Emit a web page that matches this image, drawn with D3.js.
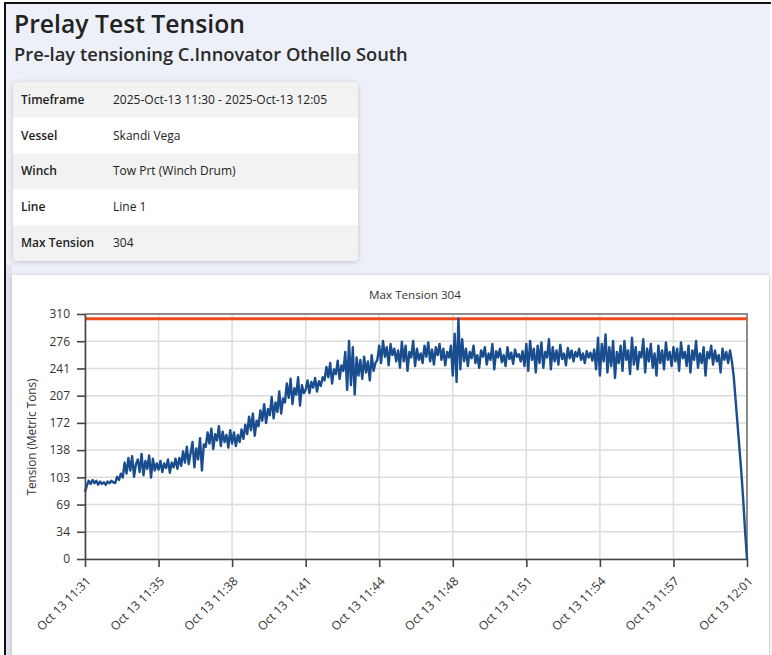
<!DOCTYPE html>
<html><head><meta charset="utf-8">
<script src="https://cdn.jsdelivr.net/npm/d3@7"></script>
<style>
html,body{margin:0;padding:0;background:#edf0f8;overflow:hidden;}
svg{display:block;font-family:"Open Sans","Noto Sans",sans-serif;}
</style></head><body>
<svg id="c" width="772" height="655"></svg>
<script>
const titleText = "Prelay Test Tension";
const subtitleText = "Pre-lay tensioning C.Innovator Othello South";
const infoLabels = ["Timeframe", "Vessel", "Winch", "Line", "Max Tension"];
const infoValues = ["2025-Oct-13 11:30 - 2025-Oct-13 12:05", "Skandi Vega", "Tow Prt (Winch Drum)", "Line 1", "304"];
const chartTitle = "Max Tension 304";
const yAxisLabel = "Tension (Metric Tons)";
const startTime = "2025-10-13T11:31:48";
const sampleSeconds = 5;
const maxTension = 304;
const yDomain = [0, 310];
const yTickValues = [0, 34.44, 68.89, 103.33, 137.78, 172.22, 206.67, 241.11, 275.56, 310];
const yTickLabels = ["0", "34", "69", "103", "138", "172", "207", "241", "276", "310"];
const xTickTimes = ["2025-10-13T11:31:48", "2025-10-13T11:35:03", "2025-10-13T11:38:18", "2025-10-13T11:41:33", "2025-10-13T11:44:48",
  "2025-10-13T11:48:03", "2025-10-13T11:51:18", "2025-10-13T11:54:33", "2025-10-13T11:57:48", "2025-10-13T12:01:03"];
const xTickLabels = ["Oct 13 11:31", "Oct 13 11:35", "Oct 13 11:38", "Oct 13 11:41", "Oct 13 11:44",
  "Oct 13 11:48", "Oct 13 11:51", "Oct 13 11:54", "Oct 13 11:57", "Oct 13 12:01"];
const tension = [
  85, 93, 99, 95, 100, 96, 99, 94, 98, 95, 97, 94, 98, 96, 99, 97,
  96, 104, 100, 108, 103,
  122, 108, 128, 112, 130, 104, 120,
  126, 110, 133, 106, 124, 114, 131, 103, 127, 112, 121,
  113, 124, 110, 121, 115, 126, 109, 122, 116, 127, 114,
  128, 118, 136, 122, 142, 120, 134,
  148, 116, 140, 126, 153, 112, 145,
  142, 160, 146, 165, 139, 158, 150, 168, 143, 161, 148, 157, 141, 163,
  146, 160, 143, 157, 148, 164, 152,
  170, 158, 180, 163, 184, 156, 175,
  168, 188, 175, 196, 172, 190, 182, 205, 178, 198, 186, 212, 184, 203,
  198, 222, 204, 228, 196, 216, 208, 230, 194, 220, 210,
  214, 226, 210, 224, 217, 229, 212, 225, 219, 230,
  226, 243, 230, 248, 222, 240, 234, 251, 228, 245, 238,
  262, 214, 276, 220, 268, 208, 255,
  232, 252, 228, 256, 236, 250, 226, 258, 238, 248,
  252, 270, 248, 276, 256, 268, 245, 272, 258, 266, 250,
  264, 242, 275, 250, 270, 238, 262, 255, 276, 244, 266, 252, 260,
  248, 270, 256, 274, 250, 265, 246, 268, 258, 272, 252, 266, 245, 262, 255, 270,
  232, 285, 224, 304, 240, 278,
  250, 266, 244, 262, 254, 270, 248, 258, 242, 264, 256, 268, 246, 260, 252, 272, 240, 263, 255, 266,
  249, 258, 244, 268, 253, 261, 247, 265, 256, 259, 250, 263,
  244, 272, 238, 276, 252, 266, 236, 270, 248, 274, 242, 262, 255, 278, 240, 268, 250, 264, 246, 271,
  253, 260, 245, 267,
  254, 264, 250, 262, 256, 266, 252, 260, 248, 263, 255, 261, 251, 265,
  240, 280, 232, 272, 250, 284, 236, 268, 244, 276, 229, 262,
  248, 270, 238, 276, 252, 264, 234, 280, 246, 268, 240, 262, 255, 278, 236, 266, 250, 272, 242, 260,
  232, 270, 248, 264, 240, 274, 252, 262, 244, 268,
  250, 266, 238, 274, 254, 262, 244, 270, 236, 264, 252, 276, 242, 260, 248, 268, 232, 262, 254, 270,
  246, 264, 250, 258, 236, 266, 252, 262, 248,
  264, 250, 230, 200, 170, 140, 110, 75, 35, 0
];

const svg = d3.select("#c");
const W = 772, H = 655;
const FONT = "'Open Sans','Noto Sans',sans-serif";
const defs = svg.append("defs");
const f1 = defs.append("filter").attr("id", "sh").attr("x", "-10%").attr("y", "-10%").attr("width", "120%").attr("height", "130%");
f1.append("feDropShadow").attr("dx", 0).attr("dy", 1).attr("stdDeviation", 2.5).attr("flood-color", "#000").attr("flood-opacity", 0.2);

// page background & frame
svg.append("rect").attr("width", W).attr("height", H).attr("fill", "#fff");
svg.append("rect").attr("x", 6).attr("y", 4).attr("width", W - 8).attr("height", H).attr("fill", "#edf0f8");
svg.append("rect").attr("x", 4).attr("y", 2).attr("width", W - 5).attr("height", 2).attr("fill", "#111");
svg.append("rect").attr("x", 4).attr("y", 2).attr("width", 2).attr("height", H).attr("fill", "#111");
svg.append("rect").attr("x", 6).attr("y", 265).attr("width", 6).attr("height", H).attr("fill", "#e1e4ee");

function fitText(sel, target) {
  const w = sel.node().getComputedTextLength();
  const fs = parseFloat(sel.attr("font-size"));
  sel.attr("font-size", fs * target / w);
}
const t1 = svg.append("text").attr("x", 14).attr("y", 33).attr("font-size", 25).attr("font-weight", 600).attr("fill", "#222").text(titleText);
fitText(t1, 231);
const t2 = svg.append("text").attr("x", 14).attr("y", 61).attr("font-size", 17).attr("font-weight", 600).attr("fill", "#2a2a2a").text(subtitleText);
fitText(t2, 394);

// info card
const card = { x: 13, y: 82, w: 345, h: 179 };
const rowH = card.h / infoLabels.length;
svg.append("rect").attr("x", card.x).attr("y", card.y).attr("width", card.w).attr("height", card.h)
  .attr("rx", 5).attr("fill", "#fff").attr("filter", "url(#sh)");
const clip = defs.append("clipPath").attr("id", "cardclip");
clip.append("rect").attr("x", card.x).attr("y", card.y).attr("width", card.w).attr("height", card.h).attr("rx", 5);
const rows = svg.append("g").attr("clip-path", "url(#cardclip)").selectAll("g").data(infoLabels).join("g")
  .attr("transform", (d, i) => `translate(${card.x},${card.y + i * rowH})`);
rows.append("rect").attr("width", card.w).attr("height", rowH).attr("fill", (d, i) => i % 2 === 0 ? "#f2f2f2" : "#fff");
rows.append("text").attr("x", 8).attr("y", rowH / 2 + 4).attr("font-size", 12).attr("font-weight", 600).attr("fill", "#222").text(d => d);
rows.append("text").attr("x", 100).attr("y", rowH / 2 + 4).attr("font-size", 12).attr("fill", "#222").text((d, i) => infoValues[i]);

// chart panel
svg.append("rect").attr("x", 12).attr("y", 275).attr("width", 757).attr("height", 420).attr("fill", "#fff").attr("filter", "url(#sh)");

const m = { l: 85, r: 747, t: 314, b: 559 };
const t0 = new Date(startTime);
const data = tension.map((v, i) => ({ t: new Date(t0.getTime() + i * sampleSeconds * 1000), v }));
const xTicks = xTickTimes.map(s => new Date(s));
const x = d3.scaleTime().domain([xTicks[0], xTicks[xTicks.length - 1]]).range([m.l, m.r]);
const y = d3.scaleLinear().domain(yDomain).range([m.b, m.t]);

// grid
svg.append("g").selectAll("line").data(yTickValues).join("line")
  .attr("x1", m.l).attr("x2", m.r).attr("y1", d => y(d)).attr("y2", d => y(d))
  .attr("stroke", "#dcdcdc").attr("stroke-width", 1.5);
svg.append("g").selectAll("line").data(xTicks).join("line")
  .attr("x1", d => x(d)).attr("x2", d => x(d)).attr("y1", m.t).attr("y2", m.b)
  .attr("stroke", "#dcdcdc").attr("stroke-width", 1.5);

// frame
svg.append("path").attr("d", `M${m.l},${m.t}H${m.r}V${m.b}`).attr("fill", "none").attr("stroke", "#8c8c8c").attr("stroke-width", 2);

// max line
svg.append("line").attr("x1", m.l).attr("x2", m.r).attr("y1", y(maxTension)).attr("y2", y(maxTension))
  .attr("stroke", "#ee4b1f").attr("stroke-width", 3);

// series
svg.append("path").datum(data).attr("fill", "none").attr("stroke", "#194d8d").attr("stroke-width", 2.4)
  .attr("stroke-linejoin", "round")
  .attr("d", d3.line().x(d => x(d.t)).y(d => y(d.v)));

// axes
const yAx = svg.append("g").attr("transform", `translate(${m.l},0)`)
  .call(d3.axisLeft(y).tickValues(yTickValues).tickFormat((d, i) => yTickLabels[i]).tickSize(8).tickSizeOuter(0).tickPadding(7));
const xAx = svg.append("g").attr("transform", `translate(0,${m.b})`)
  .call(d3.axisBottom(x).tickValues(xTicks).tickFormat((d, i) => xTickLabels[i]).tickSize(8).tickSizeOuter(0));
[yAx, xAx].forEach(g => {
  g.select(".domain").attr("stroke", "#444").attr("stroke-width", 1.6);
  g.selectAll(".tick line").attr("stroke", "#444").attr("stroke-width", 1.6);
  g.selectAll("text").attr("font-family", FONT).attr("font-size", 12).attr("fill", "#333");
});
xAx.selectAll("text").attr("text-anchor", "end").attr("dy", null).attr("y", 0)
  .attr("transform", "translate(6,23) rotate(-45)");

// chart title & y label
const ct = svg.append("text").attr("x", 415).attr("y", 299).attr("text-anchor", "middle").attr("font-size", 10.5).attr("fill", "#333").text(chartTitle);
fitText(ct, 92);
const yl = svg.append("text").attr("transform", "translate(36,437) rotate(-90)").attr("text-anchor", "middle").attr("font-size", 10.5).attr("fill", "#333").text(yAxisLabel);
fitText(yl, 117);
</script>
</body></html>
